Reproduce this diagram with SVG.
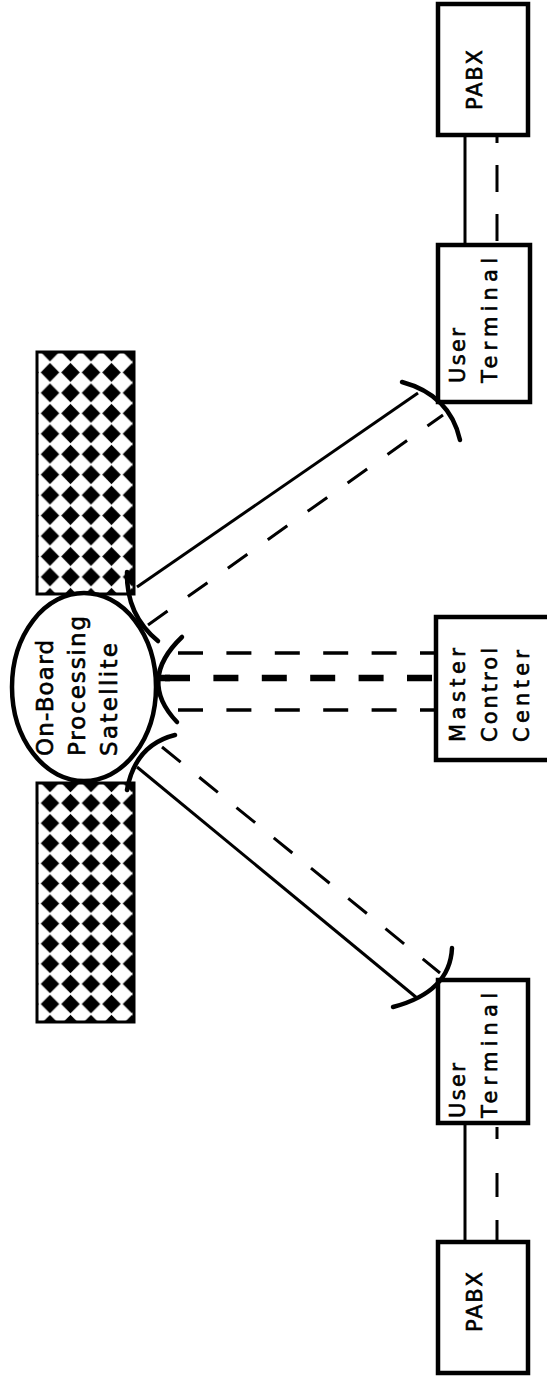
<svg xmlns="http://www.w3.org/2000/svg" width="547" height="1376" viewBox="0 0 547 1376">
<style>
.box{fill:#fff;stroke:#000;stroke-width:4.5}
.panel{stroke:#000;stroke-width:3}
.dish{fill:none;stroke:#000;stroke-width:4.5;stroke-linecap:round}
.ln{fill:none;stroke:#000;stroke-width:3}
.ds{fill:none;stroke:#000;stroke-width:3;stroke-dasharray:24 25}
.dsh{fill:none;stroke:#000;stroke-width:3.5;stroke-dasharray:25 23.4}
.dsk{fill:none;stroke:#000;stroke-width:6.5;stroke-dasharray:25 23.4}
.t{font-family:"DejaVu Sans","Liberation Sans",sans-serif;font-size:23px;fill:#000;stroke:#000;stroke-width:0.6}
.t2{font-family:"DejaVu Sans","Liberation Sans",sans-serif;font-size:21px;fill:#000;stroke:#000;stroke-width:0.6}
</style>
<defs>
<pattern id="dia1" patternUnits="userSpaceOnUse" x="39.75" y="341.75" width="20.5" height="20.45">
<rect width="20.5" height="20.45" fill="#fff"/>
<path d="M10.25,0.8 L19.5,10.2 L10.25,19.6 L1,10.2 Z" fill="#000"/>
</pattern>
<pattern id="dia2" patternUnits="userSpaceOnUse" x="39.75" y="772.9" width="20.5" height="20.1">
<rect width="20.5" height="20.1" fill="#fff"/>
<path d="M10.25,0.8 L19.5,10.05 L10.25,19.3 L1,10.05 Z" fill="#000"/>
</pattern>
</defs>
<rect width="547" height="1376" fill="#fff"/>

<g id="connectors">
<line class="ln" x1="137" y1="587" x2="418" y2="393"/>
<line class="ds" x1="148" y1="625" x2="443" y2="415"/>
<line class="ln" x1="137" y1="767" x2="417" y2="998"/>
<line class="ds" x1="162" y1="747" x2="440" y2="973" style="stroke-dasharray:24 24"/>
<line class="dsh" x1="178" y1="653" x2="434" y2="653"/>
<line class="dsk" x1="165" y1="678" x2="434" y2="678"/>
<line class="dsk" x1="158" y1="678" x2="170" y2="678" style="stroke-dasharray:none"/>
<line class="dsh" x1="178" y1="710" x2="434" y2="710"/>
<line class="ln" x1="465" y1="135" x2="465" y2="245"/>
<line class="ln" x1="497" y1="241" x2="497" y2="135" style="stroke-dasharray:27 22"/>
<line class="ln" x1="465" y1="1123" x2="465" y2="1242"/>
<line class="ln" x1="497" y1="1242" x2="497" y2="1125" style="stroke-dasharray:22 23 24 34 12"/>
</g>

<g id="satellite">
<rect class="panel" x="37" y="352" width="97" height="242" fill="url(#dia1)"/>
<rect class="panel" x="37" y="783" width="97" height="239" fill="url(#dia2)"/>
<ellipse cx="84" cy="687" rx="72" ry="94" fill="#fff" stroke="#000" stroke-width="4.5"/>
<path class="dish" d="M127,572 Q126,615 158,641"/>
<path class="dish" d="M182,637 Q137,680 177,722"/>
<path class="dish" d="M175,735 Q135,745 127,790"/>
<text class="t" transform="translate(53,756) rotate(-90)" textLength="116" lengthAdjust="spacing">On-Board</text>
<text class="t" transform="translate(85,756) rotate(-90)" textLength="140" lengthAdjust="spacing">Processing</text>
<text class="t" transform="translate(117,756) rotate(-90)" textLength="113" lengthAdjust="spacing">Satellite</text>
</g>

<g id="master-control-center">
<rect class="box" x="436" y="617" width="130" height="143"/>
<text class="t2" transform="translate(465,742) rotate(-90)" textLength="94" lengthAdjust="spacing">Master</text>
<text class="t2" transform="translate(497,742) rotate(-90)" textLength="94" lengthAdjust="spacing">Control</text>
<text class="t2" transform="translate(529,742) rotate(-90)" textLength="92" lengthAdjust="spacing">Center</text>
</g>

<g id="user-terminal-top">
<rect class="box" x="438" y="245" width="92" height="157"/>
<path class="dish" d="M402,382 Q450,395 460,440"/>
<text class="t2" transform="translate(465,383) rotate(-90)" textLength="55" lengthAdjust="spacing">User</text>
<text class="t2" transform="translate(497,383) rotate(-90)" textLength="125" lengthAdjust="spacing">Terminal</text>
</g>

<g id="pabx-top">
<rect class="box" x="438" y="4" width="90" height="131"/>
<text class="t2" text-anchor="middle" transform="translate(482,80) rotate(-90)" textLength="60" lengthAdjust="spacing">PABX</text>
</g>

<g id="user-terminal-bottom">
<rect class="box" x="438" y="980" width="90" height="143"/>
<path class="dish" d="M393,1007 Q450,992 452,948"/>
<text class="t2" transform="translate(465,1118) rotate(-90)" textLength="55" lengthAdjust="spacing">User</text>
<text class="t2" transform="translate(497,1118) rotate(-90)" textLength="125" lengthAdjust="spacing">Terminal</text>
</g>

<g id="pabx-bottom">
<rect class="box" x="438" y="1242" width="90" height="131"/>
<text class="t2" text-anchor="middle" transform="translate(482,1302) rotate(-90)" textLength="60" lengthAdjust="spacing">PABX</text>
</g>
</svg>
